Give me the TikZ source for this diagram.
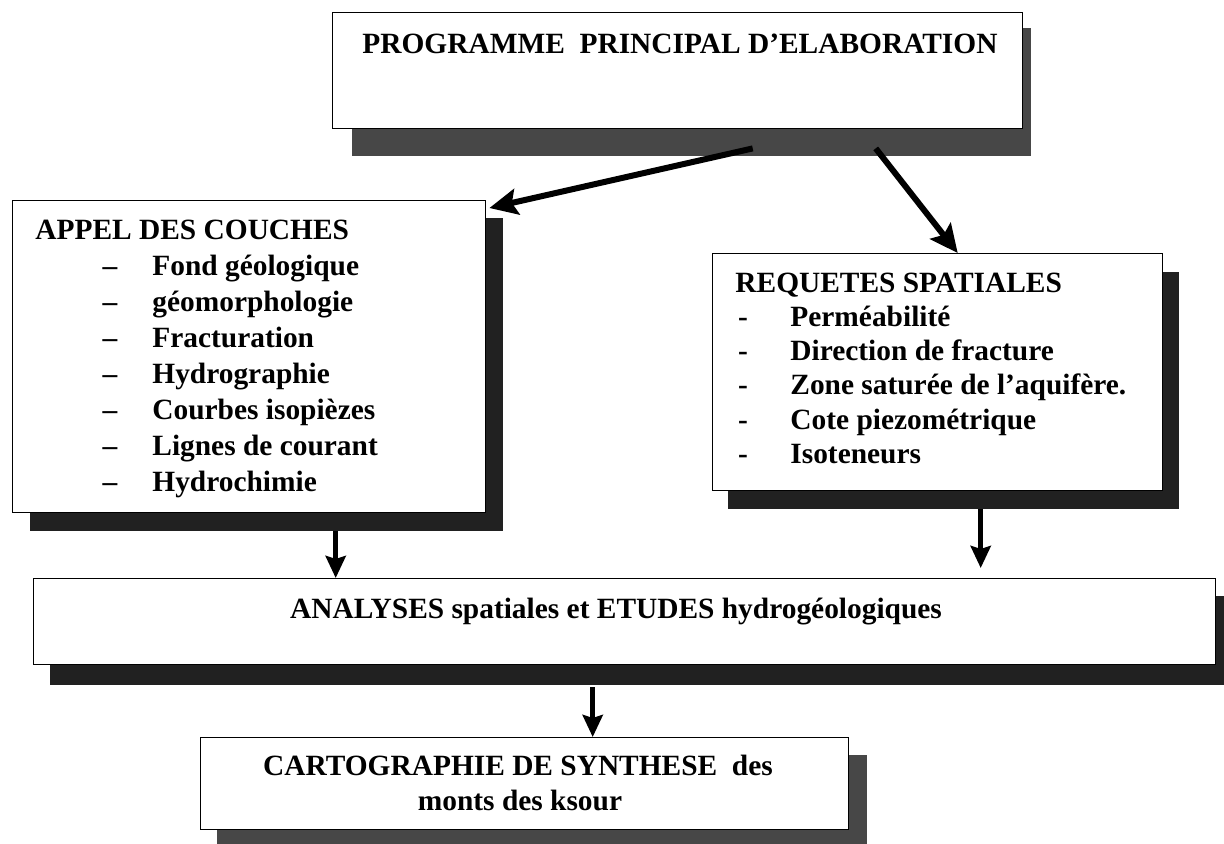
\documentclass[tikz,border=0pt]{standalone}
\usepackage{fontspec}
\setmainfont{Liberation Serif}
\usetikzlibrary{arrows.meta,backgrounds}

\begin{document}
\begin{tikzpicture}[x=0.5pt,y=-0.5pt]
\tikzstyle{every node}=[font=\bfseries\fontsize{14.7}{17.5}\selectfont,inner sep=0pt]
\tikzstyle{boite}=[draw,fill=white,line width=0.7pt,anchor=north west]
\tikzstyle{ombre}=[fill=black!87]
\tikzstyle{ombregris}=[fill=black!72]
\tikzstyle{fleche}=[line width=3pt,-{Stealth[length=14pt,width=13pt,inset=2.5pt]}]
\tikzstyle{flechev}=[line width=2.5pt,-{Stealth[length=11pt,width=10pt,inset=1.5pt]}]
\useasboundingbox (0,0) rectangle (1224,843);

% boites
\node[boite,minimum width=345pt,minimum height=58pt] (prog) at (332,12) {};
\node[boite,minimum width=236.5pt,minimum height=156pt] (appel) at (12,200) {};
\node[boite,minimum width=225pt,minimum height=118.5pt] (req) at (712,253) {};
\node[boite,minimum width=591pt,minimum height=43pt] (analyses) at (33,578) {};
\node[boite,minimum width=324pt,minimum height=46pt] (carto) at (200,737) {};

% ombres
\begin{scope}[on background layer]
\fill[ombregris] ([xshift=10pt,yshift=-13.5pt]prog.south west) rectangle ([xshift=4pt,yshift=-8pt]prog.north east);
\fill[ombre] ([xshift=9pt,yshift=-9pt]appel.south west) rectangle ([xshift=8.5pt,yshift=-9pt]appel.north east);
\fill[ombre] ([xshift=8pt,yshift=-9pt]req.south west) rectangle ([xshift=8pt,yshift=-9.5pt]req.north east);
\fill[ombre] ([xshift=8.5pt,yshift=-10pt]analyses.south west) rectangle ([xshift=4.5pt,yshift=-9pt]analyses.north east);
\fill[ombregris] ([xshift=8.5pt,yshift=-7pt]carto.south west) rectangle ([xshift=9pt,yshift=-9pt]carto.north east);
\end{scope}

% textes
\node[anchor=base west] (progtxt) at (362,53) {PROGRAMME\ \ PRINCIPAL D’ELABORATION};
\node[anchor=base west] (appeltxt) at (35,239) {APPEL DES COUCHES};
\foreach \t [count=\i] in {Fond géologique,géomorphologie,Fracturation,Hydrographie,Courbes isopièzes,Lignes de courant,Hydrochimie}
{
  \node[anchor=base] (tiret\i) at (110,239+36*\i) {--};
  \node[anchor=base west] (couche\i) at (152,239+36*\i) {\t};
}
\node[anchor=base west] (reqtxt) at (735,292) {REQUETES SPATIALES};
\foreach \t [count=\i] in {Perméabilité,Direction de fracture,Zone saturée de l’aquifère.,Cote piezométrique,Isoteneurs}
{
  \node[anchor=base] (trait\i) at (743,292+34.3*\i) {-};
  \node[anchor=base west] (requete\i) at (790,292+34.3*\i) {\t};
}
\node[anchor=base] (analysestxt) at (616,618) {ANALYSES spatiales et ETUDES hydrogéologiques};
\node[anchor=base] (cartotxt) at (518,775) {CARTOGRAPHIE DE SYNTHESE\ \ des};
\node[anchor=base] (cartotxtb) at (520,810) {monts des ksour};

% fleches
\draw[fleche] ([xshift=37.5pt,yshift=-9.5pt]prog.south) -- ([xshift=1.5pt,yshift=-4pt]appel.north east);
\draw[fleche] ([xshift=99pt,yshift=-9.5pt]prog.south) -- ([xshift=10pt]req.north);
\draw[flechev] ([xshift=43.25pt,yshift=-9pt]appel.south) -- ([xshift=-144.5pt]analyses.north);
\draw[flechev] ([xshift=21.5pt,yshift=-9pt]req.south) -- ([xshift=178pt,yshift=5pt]analyses.north);
\draw[flechev] ([xshift=-16pt,yshift=-11pt]analyses.south) -- ([xshift=34pt]carto.north);
\end{tikzpicture}
\end{document}
